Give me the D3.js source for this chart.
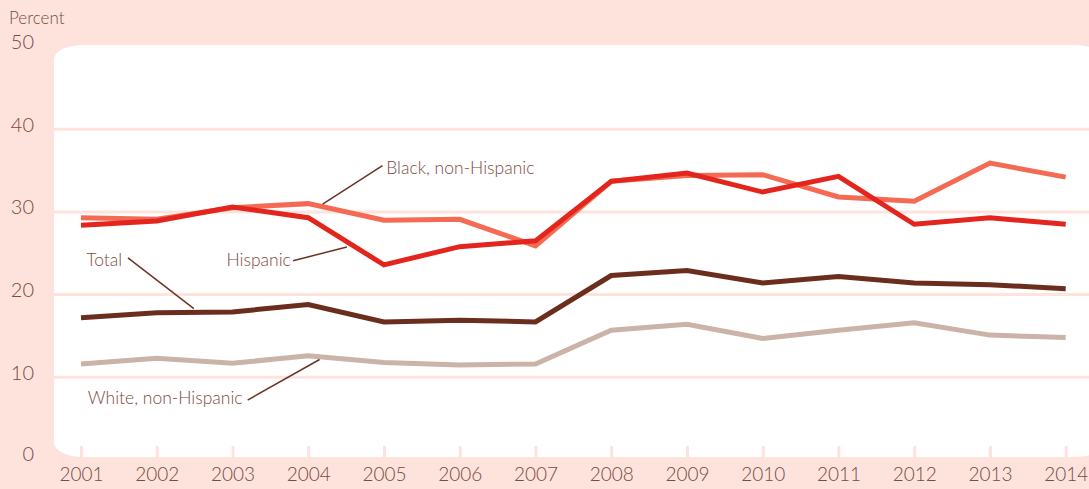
<!DOCTYPE html>
<html>
<head>
<meta charset="utf-8">
<script src="https://cdn.jsdelivr.net/npm/d3@7"></script>
<style>
  body { margin: 0; background: #fee3dd; }
  svg { display: block; }
  text { font-family: Lato, "Open Sans", sans-serif; font-weight: 300; fill: #7b4a3e; }
</style>
</head>
<body>
<div id="chart"></div>
<script>
// data
var years = [2001, 2002, 2003, 2004, 2005, 2006, 2007, 2008, 2009, 2010, 2011, 2012, 2013, 2014];
var white = [11.6, 12.3, 11.7, 12.6, 11.8, 11.5, 11.6, 15.7, 16.4, 14.7, 15.7, 16.6, 15.1, 14.8];
var total = [17.2, 17.8, 17.9, 18.8, 16.7, 16.9, 16.7, 22.3, 22.9, 21.4, 22.2, 21.4, 21.2, 20.7];
var black = [29.3, 29.1, 30.5, 31.0, 29.0, 29.1, 25.9, 33.7, 34.4, 34.5, 31.8, 31.3, 35.9, 34.2];
var hispanic = [28.4, 28.9, 30.6, 29.3, 23.6, 25.8, 26.5, 33.7, 34.7, 32.4, 34.3, 28.5, 29.3, 28.5];
var yTicks = [0, 10, 20, 30, 40, 50];

var series = [
  {name: "White, non-Hispanic", values: white, color: "#cbb3a8"},
  {name: "Total", values: total, color: "#6b2e1e"},
  {name: "Black, non-Hispanic", values: black, color: "#f46a52"},
  {name: "Hispanic", values: hispanic, color: "#e3251d"}
];

// label placement: text position and leader end, in data units
var notes = [
  {text: "Black, non-Hispanic", tx: 2005.03, ty: 35.3, anchor: "start", lx: 2004.98, ly: 35.6, px: 2004.19, py: 30.95},
  {text: "Hispanic", tx: 2003.77, ty: 24.2, anchor: "end", lx: 2003.8, ly: 24.1, px: 2004.51, py: 25.75},
  {text: "Total", tx: 2001.07, ty: 24.2, anchor: "start", lx: 2001.62, ly: 24.45, px: 2002.49, py: 18.3},
  {text: "White, non-Hispanic", tx: 2001.09, ty: 7.5, anchor: "start", lx: 2003.2, ly: 7.25, px: 2004.15, py: 12.15}
];

var W = 1089, H = 489;
var svg = d3.select("#chart").append("svg")
    .attr("width", W)
    .attr("height", H);

var x = d3.scaleLinear().domain([2001, 2014]).range([81, 1065.7]);
var y = d3.scaleLinear().domain([0, 50]).range([460, 46.5]);

// white plot panel
svg.append("rect")
    .attr("x", 54).attr("y", 45)
    .attr("width", 1050).attr("height", 412)
    .attr("rx", 30).attr("ry", 14)
    .style("fill", "#fff");

// grid lines
svg.append("g").selectAll("line")
    .data(yTicks.filter(function(d){ return d > 0 && d < 50; }))
  .enter().append("line")
    .attr("x1", 54).attr("x2", W)
    .attr("y1", function(d){ return y(d); })
    .attr("y2", function(d){ return y(d); })
    .style("stroke", "#fee3dd")
    .style("stroke-width", 3);

// y axis
var yAxis = svg.append("g")
    .attr("transform", "translate(34,0)")
    .call(d3.axisLeft(y).tickValues(yTicks).tickSize(0).tickPadding(0));
yAxis.select(".domain").remove();
yAxis.selectAll("text")
    .style("font-size", "20px")
    .style("fill", "#7b4a3e")
    .attr("dy", "0.1em")
    .attr("y", function(d){ return d == 0 ? -2 : 0; });

svg.append("text")
    .attr("x", 9).attr("y", 24)
    .style("font-size", "17px")
    .text("Percent");

// x axis, ticks pointing up into the panel
var xAxis = svg.append("g")
    .attr("transform", "translate(0,457)")
    .call(d3.axisBottom(x).tickValues(years).tickFormat(d3.format("d")).tickSizeInner(-11).tickSizeOuter(0).tickPadding(14));
xAxis.select(".domain").remove();
xAxis.selectAll("line")
    .style("stroke", "#fee3dd")
    .style("stroke-width", 3);
xAxis.selectAll("text")
    .style("font-size", "19px")
    .style("fill", "#7b4a3e")
    .attr("dy", "0.55em");

// lines
var line = d3.line()
    .x(function(d, i){ return x(years[i]); })
    .y(function(d){ return y(d); });

svg.append("g").selectAll("path")
    .data(series)
  .enter().append("path")
    .attr("d", function(d){ return line(d.values); })
    .style("fill", "none")
    .style("stroke", function(d){ return d.color; })
    .style("stroke-width", 5)
    .style("stroke-linejoin", "miter");

// labels with leader lines
var g = svg.append("g");
g.selectAll("line")
    .data(notes)
  .enter().append("line")
    .attr("x1", function(d){ return x(d.lx); })
    .attr("y1", function(d){ return y(d.ly); })
    .attr("x2", function(d){ return x(d.px); })
    .attr("y2", function(d){ return y(d.py); })
    .style("stroke", "#6b3326")
    .style("stroke-width", 1.5);
g.selectAll("text")
    .data(notes)
  .enter().append("text")
    .attr("x", function(d){ return x(d.tx); })
    .attr("y", function(d){ return y(d.ty); })
    .attr("dy", "0.35em")
    .attr("text-anchor", function(d){ return d.anchor; })
    .style("font-size", "17.5px")
    .text(function(d){ return d.text; });
</script>
</body>
</html>
